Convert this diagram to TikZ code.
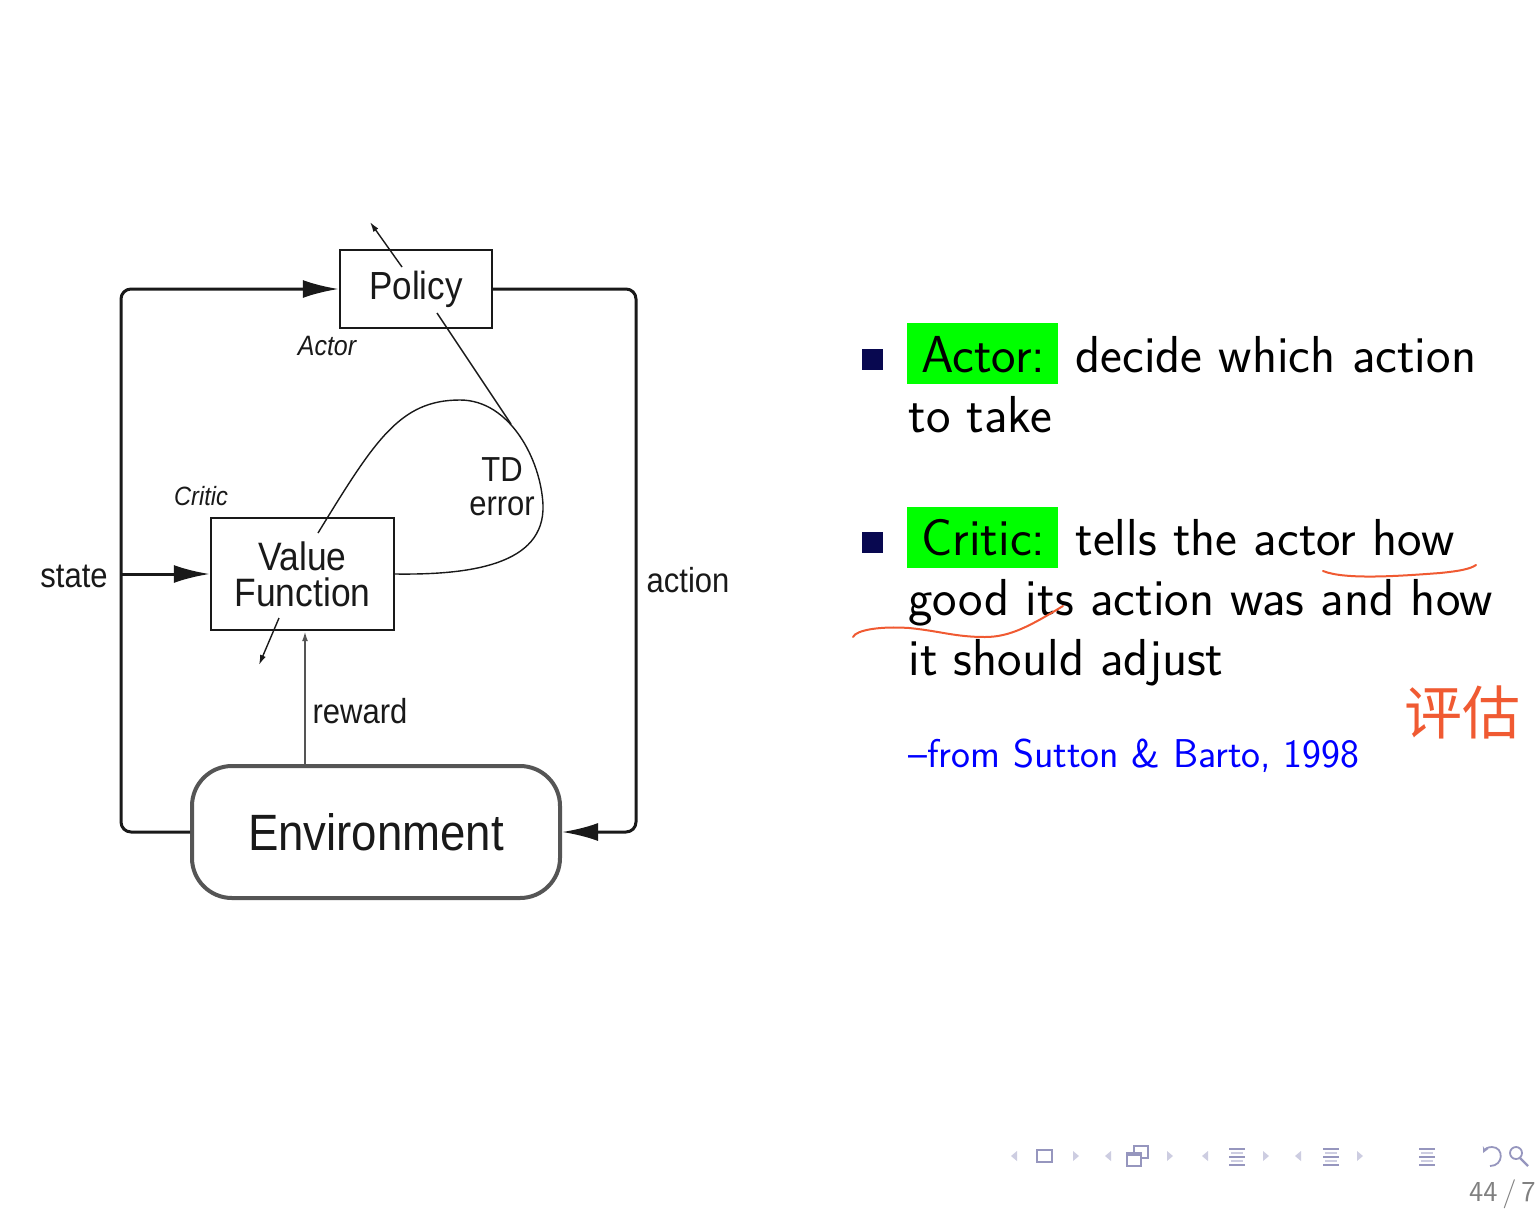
\documentclass[tikz,border=0pt]{standalone}
\usepackage{fontspec}
\newfontfamily\arial{Liberation Sans}
\newfontfamily\cjk{Noto Sans CJK SC}
\usetikzlibrary{arrows.meta}
\definecolor{beamergreen}{RGB}{0,255,0}
\definecolor{bulletnavy}{RGB}{8,8,80}
\definecolor{inkorange}{RGB}{240,90,50}
\definecolor{navlight}{RGB}{205,205,225}
\definecolor{navdark}{RGB}{150,150,190}
\definecolor{diagink}{RGB}{25,25,25}
\definecolor{envgray}{RGB}{85,85,85}
\definecolor{pagegray}{RGB}{128,128,128}
\definecolor{citeblue}{RGB}{0,0,255}
\newcommand\stretchy[1]{\scalebox{1}[1.12]{#1}}
\newcommand\navleft[2]{\fill[navlight] (#1-3,#2) -- (#1+3,#2-5) -- (#1+3,#2+5) -- cycle;}
\newcommand\navright[2]{\fill[navlight] (#1+3,#2) -- (#1-3,#2-5) -- (#1-3,#2+5) -- cycle;}
\newcommand\navlines[1]{%
  \draw[navdark, line width=1.1pt] (#1-8,1149) -- (#1+8,1149);
  \draw[navlight, line width=0.8pt] (#1-6,1153) -- (#1+6,1153);
  \draw[navdark, line width=1.1pt] (#1-8,1157) -- (#1+8,1157);
  \draw[navlight, line width=0.8pt] (#1-6,1161) -- (#1+6,1161);
  \draw[navdark, line width=1.1pt] (#1-8,1165) -- (#1+8,1165);}
\begin{document}
\begin{tikzpicture}[x=0.5pt,y=-0.5pt,
  blockbox/.style={draw=diagink, line width=1.2pt, fill=white, inner sep=0pt, text=diagink, align=center},
  envbox/.style={draw=envgray, line width=2pt, fill=white, rounded corners=20pt, inner sep=0pt, text=diagink},
  lbl/.style={inner sep=0pt, text=diagink, font=\arial\fontsize{15.5}{18}\selectfont},
  rolelbl/.style={inner sep=0pt, text=diagink, font=\arial\itshape\fontsize{12.5}{14}\selectfont},
  loopline/.style={draw=diagink, line width=1.5pt, rounded corners=5pt},
  bigtip/.style={-{Latex[length=18pt,width=9pt]}},
  thinline/.style={draw=diagink, line width=0.7pt},
  smalltip/.style={-{Latex[length=5pt,width=3pt]}},
  slidetext/.style={inner sep=0pt, anchor=base west, font=\sffamily\fontsize{26}{30}\selectfont},
  greenbox/.style={fill=beamergreen, inner sep=0pt, minimum width=75.5pt, minimum height=30.5pt},
  itemsq/.style={fill=bulletnavy, inner sep=0pt, minimum size=10.5pt},
  inkstroke/.style={draw=inkorange, line width=1pt, line cap=round, line join=round},
]
\useasboundingbox (0,0) rectangle (1536,1216);
\fill[white] (0,0) rectangle (1536,1216);

% ---------- actor-critic diagram ----------
\node[blockbox, minimum width=76pt, minimum height=39pt, font=\arial\fontsize{17.5}{19}\selectfont] (policy) at (416,289) {\raisebox{-1.5pt}{\stretchy{Policy}}};
\node[blockbox, minimum width=91.5pt, minimum height=56pt, font=\arial\fontsize{17.7}{19}\selectfont] (vf) at (302.5,574) {\stretchy{Value}\\[-1pt]\stretchy{Function}};
\node[envbox, minimum width=184pt, minimum height=66pt, font=\arial\fontsize{22.8}{24}\selectfont] (env) at (376,832) {\stretchy{Environment}};

\node[rolelbl] (actorlbl) at (327,346) {\stretchy{Actor}};
\node[rolelbl, font=\arial\itshape\fontsize{11.8}{14}\selectfont] (criticlbl) at (201,496) {\stretchy{Critic}};
\node[lbl] (statelbl) at (74,576) {\stretchy{state}};
\node[lbl] (actionlbl) at (688,580) {\stretchy{action}};
\node[lbl] (rewardlbl) at (360,711) {\stretchy{reward}};
\node[lbl] (tdlbl) at (502,470) {\stretchy{TD}};
\node[lbl] (errorlbl) at (502,506) {\stretchy{error}};

% state loop: environment -> policy, with a branch into the value function
\draw[loopline, bigtip] (env.west) -- (121,832) -- (121,289) -- (policy.west);
\coordinate (statejoin) at (121,574);
\draw[draw=diagink, line width=1.5pt, bigtip] (statejoin) -- (vf.west);

% action loop: policy -> environment
\draw[loopline, bigtip] (policy.east) -- (636,289) -- (636,832) -- (env.east);

% reward into the value function
\coordinate (rewardfoot) at (305,766);
\draw[draw=envgray, line width=0.9pt, smalltip] (rewardfoot) -- (rewardfoot |- vf.south);

% TD error loop
\draw[thinline] (vf.east) .. controls (470,575) and (545,565) .. (543,505)
  .. controls (541,460) and (510,400) .. (460,400)
  .. controls (400,400) and (375,440) .. (318,533);
\coordinate (tdjoin) at (511,424);
\coordinate (policytail) at (437,313);
\draw[thinline] (policytail) -- (tdjoin);

% parameter-update arrows
\coordinate (policyup0) at (402,267);
\coordinate (policyup1) at (370,222);
\draw[thinline, smalltip] (policyup0) -- (policyup1);
\coordinate (vfdown0) at (279,618);
\coordinate (vfdown1) at (259,665);
\draw[thinline, smalltip] (vfdown0) -- (vfdown1);

% ---------- slide text ----------
\node[itemsq] (b1) at (872.5,359.5) {};
\node[greenbox] (g1) at (982.5,353.5) {};
\node[slidetext] (t1a) at (921,372) {Actor:};
\node[slidetext] (t1b) at (1075,372) {decide which action};
\node[slidetext] (t1c) at (908,432) {to take};

\node[itemsq] (b2) at (872.5,542.5) {};
\node[greenbox] (g2) at (982.5,537) {};
\node[slidetext] (t2a) at (921,555) {Critic:};
\node[slidetext] (t2b) at (1075,555) {tells the actor how};
\node[slidetext] (t2c) at (908,615) {good its action was and how};
\node[slidetext] (t2d) at (908,675) {it should adjust};

\node[slidetext, font=\sffamily\fontsize{20.1}{24}\selectfont, text=citeblue] (cite) at (908,767) {--from Sutton \& Barto, 1998};

% ---------- handwritten notes ----------
\draw[inkstroke] (1323,571) .. controls (1345,580) and (1400,576) .. (1440,573) .. controls (1460,571) and (1470,569) .. (1476,565);
\draw[inkstroke] (853,637) .. controls (856,630) and (880,626) .. (909,628) .. controls (940,631) and (955,637) .. (985,637) .. controls (1010,637) and (1030,626) .. (1063,606);
\node[inner sep=0pt, text=inkorange, font=\cjk\fontsize{29}{30}\selectfont] (pinggu) at (1462,712) {评估};

% ---------- navigation bar ----------
\navleft{1014}{1156}
\draw[navdark, line width=0.9pt] (1037,1150) rectangle (1052,1162);
\navright{1076}{1156}
\navleft{1108}{1156}
\draw[navdark, line width=0.9pt, fill=white] (1134,1146) rectangle (1148,1158);
\draw[navdark, line width=0.9pt, fill=white] (1127,1153) rectangle (1141,1166);
\draw[navdark, line width=1.6pt] (1127,1154) -- (1141,1154);
\navright{1170}{1156}
\navleft{1205}{1156}
\navlines{1237}
\navright{1266}{1156}
\navleft{1298}{1156}
\navlines{1331}
\navright{1360}{1156}
\navlines{1427}
\draw[navdark, line width=0.9pt, -{Stealth[length=3pt,width=3pt]}] (1490,1166) .. controls (1504,1166) and (1504,1147) .. (1492,1147) .. controls (1488,1147) and (1485,1149) .. (1483,1153);
\draw[navdark, line width=0.9pt] (1516,1153) circle[radius=6];
\draw[navdark, line width=1.1pt] (1520,1158) -- (1528,1166);
\node[inner sep=0pt, anchor=base east, text=pagegray, font=\sffamily\fontsize{14.5}{18}\selectfont] (pagenum) at (1536,1201) {44\,/\,7};
\end{tikzpicture}
\end{document}
